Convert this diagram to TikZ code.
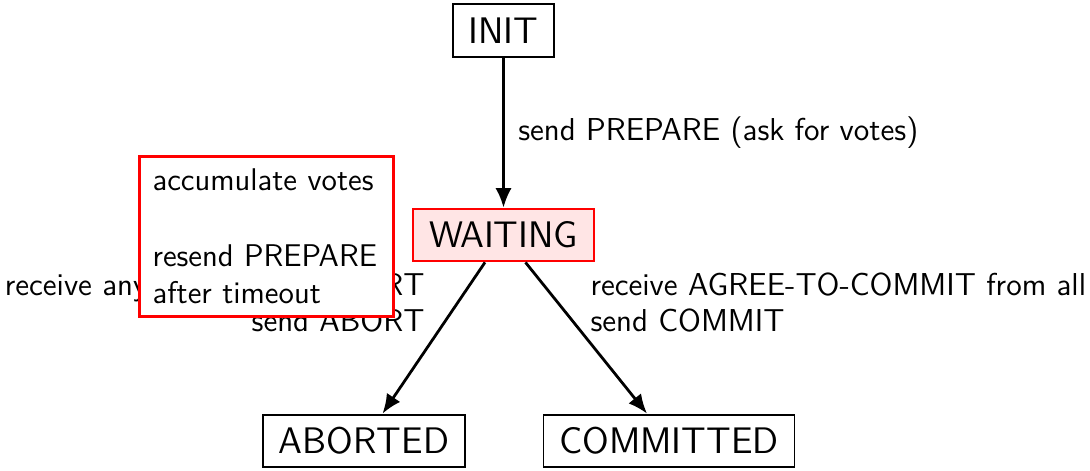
\documentclass[tikz,border=0pt]{standalone}
\usetikzlibrary{arrows.meta}
\begin{document}
\begin{tikzpicture}[x=0.36pt,y=-0.36pt, font=\sffamily\fontsize{11.4pt}{13pt}\selectfont,
  state/.style={draw, line width=0.7pt, font=\sffamily\fontsize{13.3pt}{15pt}\selectfont, minimum height=19pt, inner xsep=5.7pt, inner ysep=0pt},
  trans/.style={-{Latex[length=7pt,width=5.8pt]}, line width=1pt},
  lbl/.style={inner sep=0pt},
  notebox/.style={draw=red, line width=1.1pt, fill=white, minimum width=91.4pt, minimum height=57.6pt, text width=82pt, inner xsep=4.5pt, inner ysep=0pt, align=left, font=\sffamily\fontsize{11.3pt}{13.6pt}\selectfont}
]
\useasboundingbox (0,0) rectangle (1090,470);
\node[state] (init) at (503.5,30.5) {INIT};
\node[state, draw=red, fill=red!10] (waiting) at (503.5,235) {WAITING};
\node[state] (aborted) at (364,441) {ABORTED};
\node[state] (committed) at (669,441) {COMMITTED};
\draw[trans] (init) -- node[midway, right, xshift=1.5pt] (lab0) {send PREPARE (ask for votes)} (waiting);
\draw[trans] (waiting) -- (aborted);
\draw[trans] (waiting) -- (committed);
\node[lbl, anchor=north east, align=right] (lab1) at (425,272) {receive any AGREE-TO-ABORT\\ send ABORT};
\node[lbl, anchor=north west, align=left] (lab2) at (590,272) {receive AGREE-TO-COMMIT from all\\ send COMMIT};
\node[notebox, anchor=north west] (note) at (138,155) {accumulate votes\\ \mbox{}\\ resend PREPARE\\ after timeout};
\end{tikzpicture}
\end{document}
